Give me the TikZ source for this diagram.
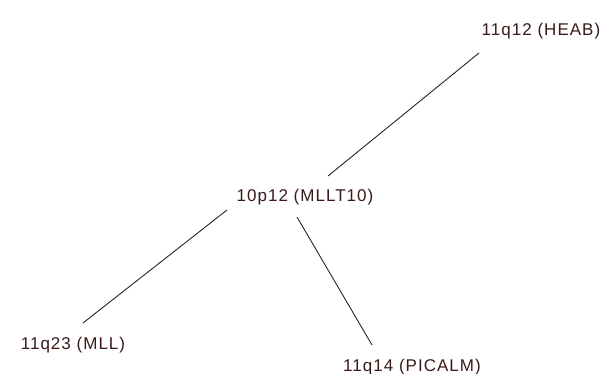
\documentclass[tikz,border=0pt]{standalone}
\usepackage{fontspec}
\setmainfont{Liberation Sans}[LetterSpace=6]
\definecolor{lbl}{HTML}{3A1A1A}
\begin{document}
\begin{tikzpicture}[x=1pt,y=-1pt,
  lab/.style={text=lbl,font=\fontsize{17}{20}\selectfont,inner sep=0pt},
  conn/.style={draw=black!85,line width=0.9pt}]
\useasboundingbox (0,0) rectangle (602,374);
\fill[white] (0,0) rectangle (602,374);
\node[lab] (heab) at (541,31) {11q12 (HEAB)};
\node[lab] (mllt) at (305,197) {10p12 (MLLT10)};
\node[lab] (mll) at (73,345) {11q23 (MLL)};
\node[lab] (pic) at (412,367) {11q14 (PICALM)};
\coordinate (a1) at (479,53);
\coordinate (a2) at (328,176);
\coordinate (b1) at (227,210);
\coordinate (b2) at (83,323);
\coordinate (c1) at (297,217);
\coordinate (c2) at (372,345);
\draw[conn] (a1) -- (a2);
\draw[conn] (b1) -- (b2);
\draw[conn] (c1) -- (c2);
\end{tikzpicture}
\end{document}
